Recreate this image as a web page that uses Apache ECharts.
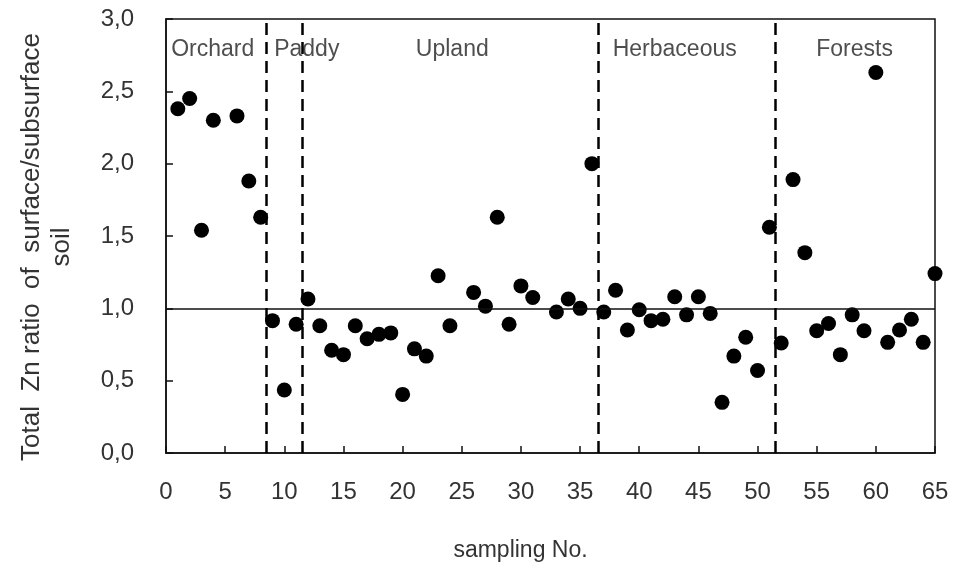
<!DOCTYPE html>
<html><head><meta charset="utf-8">
<script src="https://cdn.jsdelivr.net/npm/echarts@6/dist/echarts.min.js"></script>
<style>html,body{margin:0;padding:0;background:#fff}#c{width:953px;height:567px}</style>
</head><body><div id="c"></div>
<script>
const sampleNo = [1,2,3,4,6,7,8, 9,10,11, 12,13,14,15,16,17,18,19,20,21,22,23,24,26,27,28,29,30,31,33,34,35,36, 37,38,39,40,41,42,43,44,45,46,47,48,49,50,51, 52,53,54,55,56,57,58,59,60,61,62,63,64,65];
const znRatio = [2.38,2.45,1.54,2.30,2.33,1.88,1.63, 0.915,0.435,0.89, 1.065,0.88,0.71,0.68,0.88,0.79,0.82,0.83,0.405,0.72,0.67,1.225,0.88,1.11,1.015,1.63,0.89,1.155,1.075,0.975,1.065,1.0,2.0, 0.975,1.125,0.85,0.99,0.915,0.925,1.08,0.955,1.08,0.965,0.35,0.67,0.80,0.57,1.56, 0.76,1.89,1.385,0.845,0.895,0.68,0.955,0.845,2.63,0.765,0.85,0.925,0.765,1.24];
const boundaries = [8.5, 11.5, 36.5, 51.5];
const landUse = ['Orchard','Paddy','Upland','Herbaceous','Forests'];
const landUseX = [3.95, 11.9, 24.2, 43.0, 58.2];
const landUseY = 2.79;
const yTicks = ['0,0','0,5','1,0','1,5','2,0','2,5','3,0'];

const chart = echarts.init(document.getElementById('c'));
const font = '"Liberation Sans", Arial, sans-serif';
chart.setOption({
  animation:false,
  backgroundColor:'#fff',
  grid:{left:166,right:18,top:19,bottom:114,containLabel:false,outerBoundsMode:'none',
    show:true,borderColor:'#111',borderWidth:1.5,backgroundColor:'transparent'},
  xAxis:{type:'value',min:0,max:65,interval:5,
    name:'sampling No.',nameLocation:'middle',nameGap:86,
    nameTextStyle:{fontFamily:font,fontSize:23,color:'#333',padding:[0,60,0,0]},
    axisLine:{lineStyle:{color:'#111',width:1.5}},
    axisTick:{inside:true,length:7,lineStyle:{color:'#111',width:1.5}},
    axisLabel:{fontFamily:font,fontSize:24,color:'#333',margin:27},
    splitLine:{show:false}},
  yAxis:{type:'value',min:0,max:3,interval:0.5,
    name:'Total  Zn ratio  of  surface/subsurface\nsoil',nameLocation:'middle',nameGap:89,nameRotate:90,
    nameTextStyle:{fontFamily:font,fontSize:26,color:'#333',lineHeight:30,align:'center',padding:[0,22,0,0]},
    axisLine:{lineStyle:{color:'#111',width:1.5}},
    axisTick:{inside:true,length:7,lineStyle:{color:'#111',width:1.5}},
    axisLabel:{fontFamily:font,fontSize:24,color:'#333',margin:32,formatter:(v)=>yTicks[Math.round(v*2)]},
    splitLine:{show:false}},
  series:[
    {type:'scatter',data:sampleNo.map((x,i)=>[x,znRatio[i]]),symbolSize:15,
     itemStyle:{color:'#000',opacity:1},z:3,
     markLine:{silent:true,symbol:'none',label:{show:false},
       data:[
         {yAxis:1.0,lineStyle:{type:'solid',color:'#111',width:1.5}},
         ...boundaries.map(b=>({xAxis:b,lineStyle:{type:[12,7],color:'#000',width:2.5}}))
       ]}},
    {type:'scatter',data:landUse.map((n,i)=>({value:[landUseX[i],landUseY],name:n})),
     symbolSize:0,silent:true,z:4,
     label:{show:true,position:'inside',formatter:p=>p.name,fontFamily:font,fontSize:23,color:'#222'}}
  ]
});
</script></body></html>
